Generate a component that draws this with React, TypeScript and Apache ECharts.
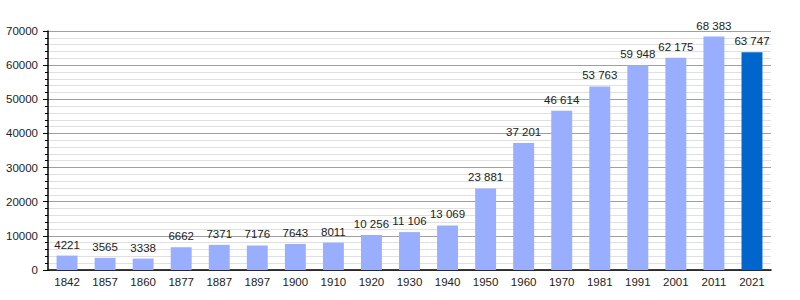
import React, { useEffect, useRef } from "react";
import * as echarts from "echarts";

const years = ["1842","1857","1860","1877","1887","1897","1900","1910","1920","1930","1940","1950","1960","1970","1981","1991","2001","2011","2021"];
const population = [4221,3565,3338,6662,7371,7176,7643,8011,10256,11106,13069,23881,37201,46614,53763,59948,62175,68383,63747];
const yTicks = [0,10000,20000,30000,40000,50000,60000,70000];

const fmt = (v: number) => (v >= 10000 ? String(v).replace(/\B(?=(\d{3})+(?!\d))/g, " ") : String(v));
const FONT = "Liberation Sans, Arial, sans-serif";

export default function App() {
  const ref = useRef<HTMLDivElement>(null);
  useEffect(() => {
    const chart = echarts.init(ref.current!, null, { renderer: "svg" });
    const last = population.length - 1;
    chart.setOption({
      animation: false,
      grid: { left: 48, right: 29, top: 31, bottom: 30 },
      xAxis: {
        type: "category",
        data: years,
        axisLine: { lineStyle: { color: "#000", width: 1.5 } },
        axisTick: { show: false },
        axisLabel: { color: "#222", fontSize: 11.5, fontFamily: FONT, margin: 6 },
      },
      yAxis: {
        type: "value",
        min: yTicks[0],
        max: yTicks[yTicks.length - 1],
        interval: 10000,
        axisLine: { show: true, lineStyle: { color: "#000", width: 1.5 } },
        axisTick: { show: true, inside: false, length: 5, lineStyle: { color: "#000" } },
        minorTick: { show: true, splitNumber: 5, length: 3, lineStyle: { color: "#000" } },
        splitLine: { show: true, lineStyle: { color: "#a0a0a0", width: 1 } },
        minorSplitLine: { show: true, lineStyle: { color: "#e0e0e0", width: 1 } },
        axisLabel: {
          color: "#222",
          fontSize: 11.5,
          fontFamily: FONT,
          margin: 10,
          formatter: (v: number) => String(v),
        },
      },
      series: [
        {
          type: "bar",
          barWidth: "55%",
          data: population.map((v, i) => ({
            value: v,
            itemStyle: { color: i === last ? "#0066cc" : "#99aeff" },
          })),
          label: {
            show: true,
            position: "top",
            distance: 5,
            color: "#222",
            fontSize: 11.5,
            fontFamily: FONT,
            formatter: (p: any) => fmt(p.value),
          },
        },
      ],
    });
    return () => chart.dispose();
  }, []);
  return (
    <div
      ref={ref}
      style={{ position: "absolute", left: 0, top: 0, width: 800, height: 300, background: "#fff" }}
    />
  );
}
